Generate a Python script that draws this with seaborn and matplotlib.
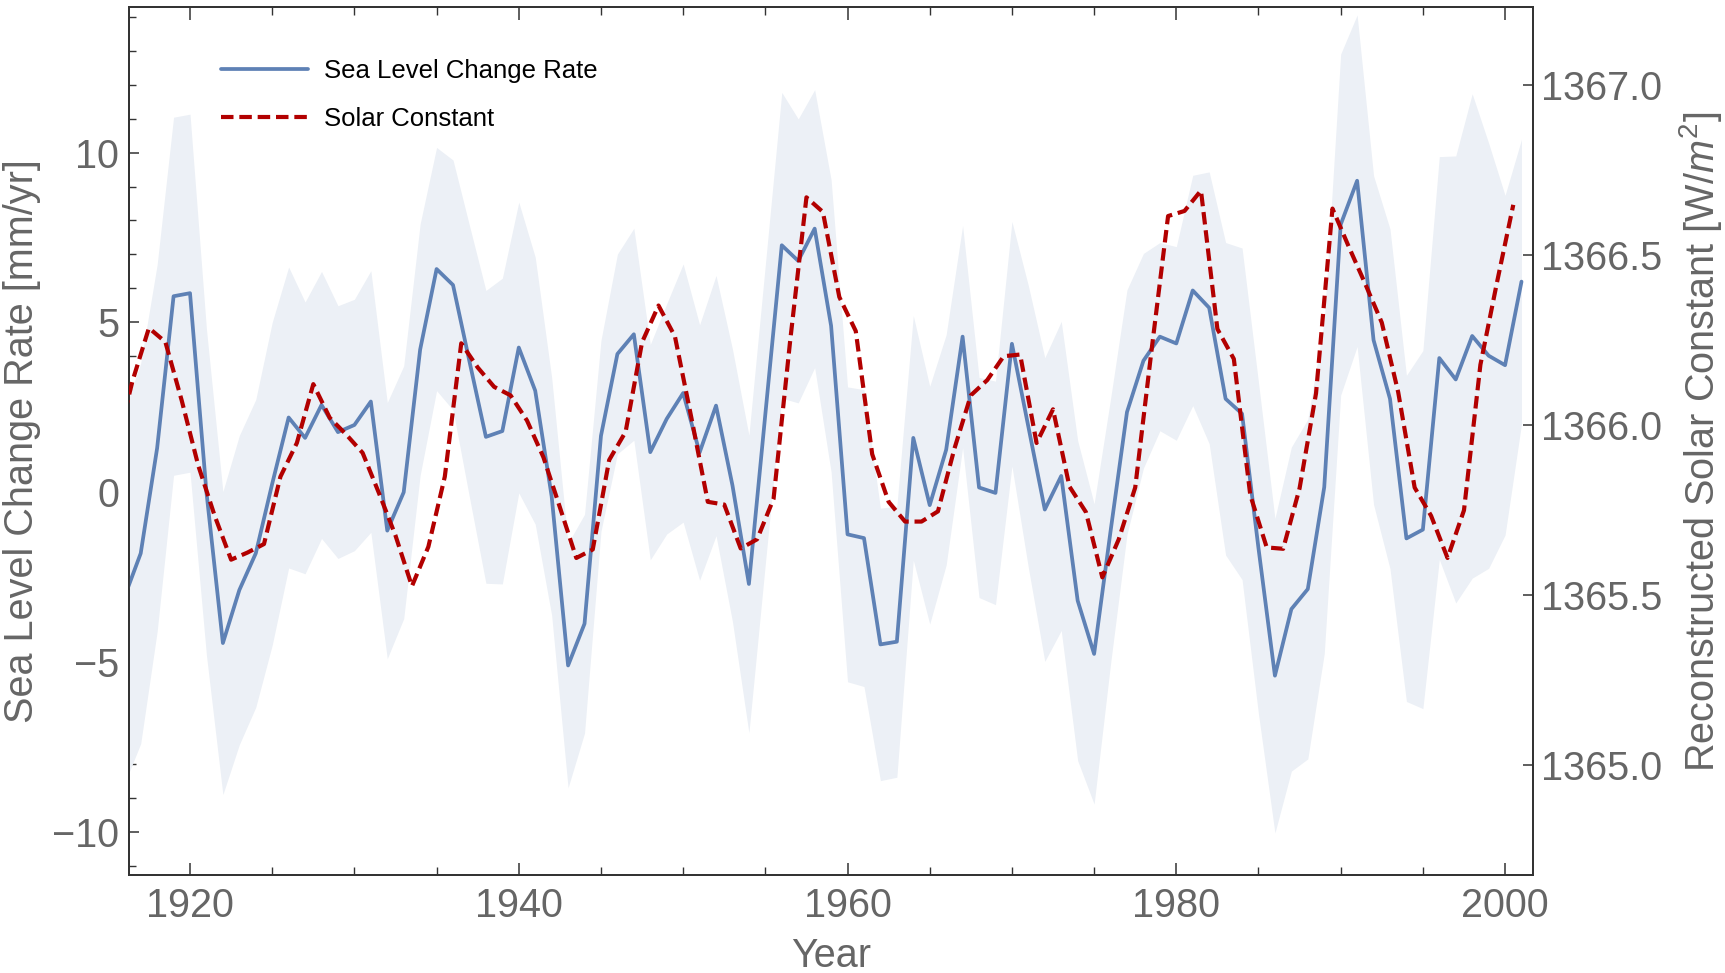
import numpy as np
import pandas as pd
import matplotlib
matplotlib.use("Agg")
import matplotlib.pyplot as plt
import seaborn as sns
from matplotlib.lines import Line2D
from matplotlib.ticker import MultipleLocator, FormatStrFormatter

# ---------------- data ----------------
years = np.arange(1916, 2002)            # sea-level series, yearly
sea_level_rate = [
    -3.10, -1.80, 1.30, 5.77, 5.86, 0.00, -4.44, -2.88, -1.80, 0.25,   # 1916-1925
    2.20, 1.60, 2.57, 1.77, 1.98, 2.67, -1.13, 0.00, 4.20, 6.57,       # 1926-1935
    6.10, 3.85, 1.63, 1.80, 4.26, 2.99, -0.12, -5.10, -3.87, 1.66,     # 1936-1945
    4.07, 4.65, 1.18, 2.16, 2.92, 1.17, 2.55, 0.20, -2.70, 2.30,       # 1946-1955
    7.27, 6.81, 7.76, 4.90, -1.24, -1.35, -4.48, -4.40, 1.60, -0.38,   # 1956-1965
    1.25, 4.58, 0.14, -0.02, 4.37, 1.93, -0.51, 0.48, -3.19, -4.76,    # 1966-1975
    -1.15, 2.36, 3.87, 4.58, 4.38, 5.94, 5.43, 2.75, 2.31, -1.65,      # 1976-1985
    -5.40, -3.44, -2.85, 0.15, 7.88, 9.17, 4.48, 2.75, -1.36, -1.10,   # 1986-1995
    3.95, 3.32, 4.60, 4.02, 3.74, 6.20,                                # 1996-2001
]
sea_level_err = [
    5.50, 5.60, 5.40, 5.27, 5.27, 4.80, 4.46, 4.55, 4.53, 4.75,
    4.43, 4.00, 3.93, 3.72, 3.70, 3.85, 3.77, 3.72, 3.70, 3.58,
    3.68, 4.00, 4.31, 4.50, 4.28, 3.93, 3.50, 3.60, 3.22, 2.81,
    2.94, 3.12, 3.17, 3.39, 3.80, 3.76, 3.83, 4.01, 4.38, 4.40,
    4.50, 4.18, 4.09, 4.30, 4.34, 4.37, 4.01, 3.99, 3.60, 3.50,
    3.39, 3.27, 3.24, 3.29, 3.60, 4.15, 4.47, 4.55, 4.71, 4.42,
    3.90, 3.60, 3.16, 2.77, 2.85, 3.39, 4.00, 4.60, 4.88, 4.88,
    4.63, 4.77, 5.00, 4.90, 5.02, 4.88, 4.84, 5.00, 4.80, 5.27,
    5.93, 6.58, 7.13, 6.26, 5.00, 4.19,
]
solar_years = np.arange(1915.5, 2001.0, 1.0)   # solar series at mid-years
solar_constant = [
    1365.933, 1366.129, 1366.285, 1366.244, 1366.071, 1365.881, 1365.733, 1365.604, 1365.625, 1365.650,
    1365.848, 1365.947, 1366.120, 1366.021, 1365.972, 1365.918, 1365.799, 1365.675, 1365.526, 1365.642,
    1365.848, 1366.240, 1366.169, 1366.112, 1366.087, 1366.013, 1365.905, 1365.758, 1365.609, 1365.634,
    1365.897, 1365.980, 1366.243, 1366.351, 1366.260, 1366.021, 1365.774, 1365.766, 1365.637, 1365.664,
    1365.783, 1366.243, 1366.669, 1366.626, 1366.376, 1366.276, 1365.914, 1365.774, 1365.716, 1365.716,
    1365.746, 1365.930, 1366.087, 1366.132, 1366.202, 1366.207, 1365.947, 1366.046, 1365.819, 1365.744,
    1365.552, 1365.664, 1365.816, 1366.222, 1366.614, 1366.629, 1366.689, 1366.282, 1366.194, 1365.794,
    1365.640, 1365.636, 1365.814, 1366.093, 1366.636, 1366.523, 1366.414, 1366.301, 1366.096, 1365.816,
    1365.733, 1365.609, 1365.749, 1366.177, 1366.417, 1366.647,
]
series_labels = ["Sea Level Change Rate", "Solar Constant"]

sea_df = pd.DataFrame({"year": years, "rate": sea_level_rate, "err": sea_level_err})
sea_df["lo"] = sea_df["rate"] - sea_df["err"]
sea_df["hi"] = sea_df["rate"] + sea_df["err"]
sol_df = pd.DataFrame({"year": solar_years, "S": solar_constant})

# ---------------- style ----------------
sns.set_theme(style="white")
plt.rcParams["font.family"] = ["Liberation Sans", "DejaVu Sans"]
plt.rcParams["mathtext.fontset"] = "custom"
plt.rcParams["mathtext.rm"] = "Liberation Sans"
plt.rcParams["mathtext.it"] = "Liberation Sans:italic"
plt.rcParams["axes.unicode_minus"] = True

BLUE = "#5E81B5"
BAND = "#ECF0F6"
RED = "#B20000"
GRAY = "#666666"
SPINE = "#333333"
DASH = (3.0, 1.4)
BLUE_LW = 2.7
RED_LW = 3.0
TICK_FS = 28.5
LABEL_FS = 28.5

fig = plt.figure(figsize=(17.25, 9.73), dpi=100)
ax = fig.add_axes([0.0748, 0.1003, 0.8139, 0.892])
ax2 = ax.twinx()

ax.fill_between(sea_df["year"], sea_df["lo"], sea_df["hi"], color=BAND, lw=0, zorder=1)
sns.lineplot(data=sea_df, x="year", y="rate", ax=ax, color=BLUE, lw=BLUE_LW, zorder=3)
sns.lineplot(data=sol_df, x="year", y="S", ax=ax2, color=RED, lw=RED_LW,
             linestyle=(0, DASH), zorder=4)

ax.set_xlim(1916.29, 2001.70)
ax.set_ylim(-11.28, 14.27)
ax2.set_ylim(1364.676, 1367.227)

ax.xaxis.set_major_locator(MultipleLocator(20))
ax.xaxis.set_minor_locator(MultipleLocator(5))
ax.yaxis.set_major_locator(MultipleLocator(5))
ax.yaxis.set_minor_locator(MultipleLocator(1))
ax2.yaxis.set_major_locator(MultipleLocator(0.5))
ax2.yaxis.set_major_formatter(FormatStrFormatter("%.1f"))
ax2.yaxis.set_minor_locator(plt.NullLocator())

ax.tick_params(axis="x", which="both", direction="in", top=True, bottom=True,
               color=SPINE, labelcolor=GRAY, labelsize=TICK_FS, pad=8)
ax.tick_params(axis="x", which="major", length=9, width=1.1)
ax.tick_params(axis="x", which="minor", length=5.5, width=1.0)
ax.tick_params(axis="y", which="both", direction="in", left=True, right=False,
               color=SPINE, labelcolor=GRAY, labelsize=TICK_FS, pad=7)
ax.tick_params(axis="y", which="major", length=7, width=1.1)
ax.tick_params(axis="y", which="minor", length=5, width=1.0)
ax2.tick_params(axis="y", which="major", direction="in", right=True, left=False,
                length=7, width=1.1, color=SPINE, labelcolor=GRAY, labelsize=TICK_FS, pad=6)

for a in (ax, ax2):
    for s in a.spines.values():
        s.set_color(SPINE)
        s.set_linewidth(1.3)
    a.grid(False)

ax.set_xlabel("Year", fontsize=LABEL_FS, color=GRAY)
ax.xaxis.label.set_va("center")
ax.xaxis.set_label_coords(0.5, -0.093)
ax.set_ylabel("Sea Level Change Rate [mm/yr]", fontsize=LABEL_FS, color=GRAY)
ax.yaxis.label.set_va("center")
ax.yaxis.set_label_coords(-0.0765, 0.5)
ax2.set_ylabel("Reconstructed Solar Constant [W/$m^2$]", fontsize=LABEL_FS, color=GRAY, rotation=90)
ax2.yaxis.label.set_va("center")
ax2.yaxis.set_label_coords(1.1195, 0.5)

handles = [Line2D([], [], color=BLUE, lw=BLUE_LW),
           Line2D([], [], color=RED, lw=RED_LW, linestyle=(0, DASH))]
leg = ax2.legend(handles, series_labels, loc="upper left", bbox_to_anchor=(0.0655, 0.941),
                 frameon=False, fontsize=18.5, handlelength=3.4, handletextpad=0.6,
                 labelspacing=0.95, borderpad=0, borderaxespad=0)
for t in leg.get_texts():
    t.set_color("black")

fig.savefig("out.png", dpi=100)
